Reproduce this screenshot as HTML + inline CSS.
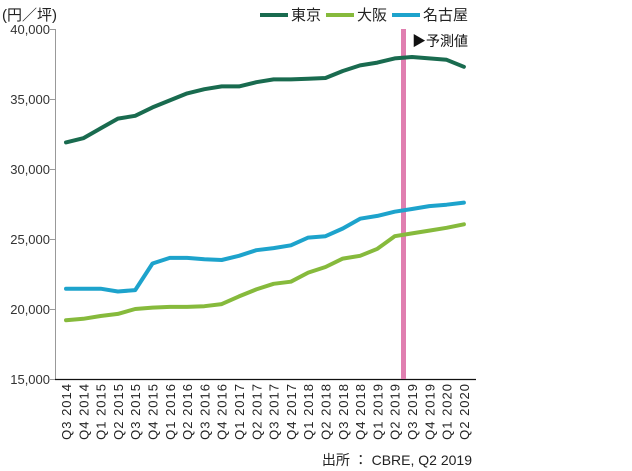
<!DOCTYPE html>
<html><head><meta charset="utf-8"><style>
html,body{margin:0;padding:0;background:#fff;}
svg{display:block;font-family:"Liberation Sans","Noto Sans CJK JP",sans-serif;}
</style></head><body>
<svg width="632" height="471" viewBox="0 0 632 471" xmlns="http://www.w3.org/2000/svg">
<rect width="632" height="471" fill="#fff"/>
<text x="2" y="20" font-size="15" fill="#222">(円／坪)</text>
<g font-size="13" fill="#333" text-anchor="end">
<text x="50" y="34">40,000</text>
<text x="50" y="104">35,000</text>
<text x="50" y="174">30,000</text>
<text x="50" y="244">25,000</text>
<text x="50" y="314">20,000</text>
<text x="50" y="384">15,000</text>
</g>
<g stroke="#999" stroke-width="1">
<line x1="55.5" y1="29" x2="55.5" y2="379"/>
<line x1="50" y1="29.5" x2="55.5" y2="29.5"/>
<line x1="50" y1="99.5" x2="55.5" y2="99.5"/>
<line x1="50" y1="169.5" x2="55.5" y2="169.5"/>
<line x1="50" y1="239.5" x2="55.5" y2="239.5"/>
<line x1="50" y1="309.5" x2="55.5" y2="309.5"/>
<line x1="50" y1="379.5" x2="55.5" y2="379.5"/>
</g>
<line x1="55" y1="379.5" x2="476" y2="379.5" stroke="#111" stroke-width="1.2"/>
<rect x="401" y="29" width="5" height="350" fill="#e07fb0"/>
<text x="412" y="46" font-size="14" fill="#111">▶予測値</text>
<g fill="none" stroke-width="4" stroke-linejoin="round" stroke-linecap="round">
<polyline stroke="#196b4f" points="66,142.4 83.3,138.2 100.6,128.4 117.9,118.6 135.2,115.8 152.5,107.4 169.8,100.4 187.1,93.4 204.4,89.2 221.7,86.4 239,86.4 256.3,82.2 273.6,79.4 290.9,79.4 308.2,78.7 325.5,78 342.8,71 360.1,65.4 377.4,62.6 394.7,58.4 412,57 429.3,58.4 446.6,59.8 463.9,66.8"/>
<polyline stroke="#86ba3c" points="66,320.2 83.3,318.8 100.6,316 117.9,313.9 135.2,309 152.5,307.6 169.8,306.9 187.1,306.9 204.4,306.2 221.7,304.1 239,296.4 256.3,289.4 273.6,283.8 290.9,281.7 308.2,272.6 325.5,267 342.8,258.6 360.1,255.8 377.4,248.8 394.7,236.2 412,233.4 429.3,230.6 446.6,227.8 463.9,224.3"/>
<polyline stroke="#1da3cc" points="66,288.7 83.3,288.7 100.6,288.7 117.9,291.5 135.2,290.1 152.5,263.5 169.8,257.9 187.1,257.9 204.4,259.3 221.7,260 239,255.8 256.3,250.2 273.6,248.1 290.9,245.3 308.2,237.6 325.5,236.2 342.8,228.5 360.1,218.7 377.4,215.9 394.7,211.7 412,209 429.3,206.1 446.6,204.7 463.9,202.6"/>
</g>
<g font-size="13" fill="#222" text-anchor="end">
<text transform="translate(71,383) rotate(-90)" letter-spacing="1">Q3 2014</text>
<text transform="translate(88.3,383) rotate(-90)" letter-spacing="1">Q4 2014</text>
<text transform="translate(105.6,383) rotate(-90)" letter-spacing="1">Q1 2015</text>
<text transform="translate(122.9,383) rotate(-90)" letter-spacing="1">Q2 2015</text>
<text transform="translate(140.2,383) rotate(-90)" letter-spacing="1">Q3 2015</text>
<text transform="translate(157.5,383) rotate(-90)" letter-spacing="1">Q4 2015</text>
<text transform="translate(174.8,383) rotate(-90)" letter-spacing="1">Q1 2016</text>
<text transform="translate(192.1,383) rotate(-90)" letter-spacing="1">Q2 2016</text>
<text transform="translate(209.4,383) rotate(-90)" letter-spacing="1">Q3 2016</text>
<text transform="translate(226.7,383) rotate(-90)" letter-spacing="1">Q4 2016</text>
<text transform="translate(244,383) rotate(-90)" letter-spacing="1">Q1 2017</text>
<text transform="translate(261.3,383) rotate(-90)" letter-spacing="1">Q2 2017</text>
<text transform="translate(278.6,383) rotate(-90)" letter-spacing="1">Q3 2017</text>
<text transform="translate(295.9,383) rotate(-90)" letter-spacing="1">Q4 2017</text>
<text transform="translate(313.2,383) rotate(-90)" letter-spacing="1">Q1 2018</text>
<text transform="translate(330.5,383) rotate(-90)" letter-spacing="1">Q2 2018</text>
<text transform="translate(347.8,383) rotate(-90)" letter-spacing="1">Q3 2018</text>
<text transform="translate(365.1,383) rotate(-90)" letter-spacing="1">Q4 2018</text>
<text transform="translate(382.4,383) rotate(-90)" letter-spacing="1">Q1 2019</text>
<text transform="translate(399.7,383) rotate(-90)" letter-spacing="1">Q2 2019</text>
<text transform="translate(417,383) rotate(-90)" letter-spacing="1">Q3 2019</text>
<text transform="translate(434.3,383) rotate(-90)" letter-spacing="1">Q4 2019</text>
<text transform="translate(451.6,383) rotate(-90)" letter-spacing="1">Q1 2020</text>
<text transform="translate(468.9,383) rotate(-90)" letter-spacing="1">Q2 2020</text>
</g>
<text x="472" y="465" font-size="14" fill="#222" text-anchor="end">出所 ： CBRE, Q2 2019</text>
<g font-size="15" fill="#222">
<rect x="260" y="13" width="28" height="4" fill="#196b4f"/>
<text x="291" y="20">東京</text>
<rect x="326" y="13" width="28" height="4" fill="#86ba3c"/>
<text x="357" y="20">大阪</text>
<rect x="392" y="13" width="28" height="4" fill="#1da3cc"/>
<text x="423" y="20">名古屋</text>
</g>
</svg>
</body></html>
